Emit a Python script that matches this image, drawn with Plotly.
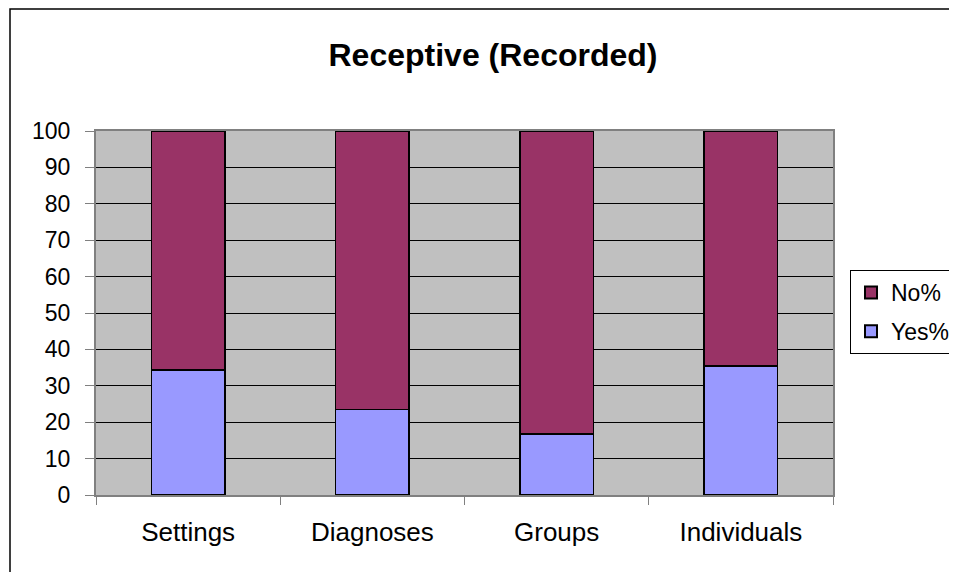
import plotly.graph_objects as go

# Données
categories = ["Settings", "Diagnoses", "Groups", "Individuals"]
yes_pct = [34.4, 23.5, 16.8, 35.5]
no_pct = [100 - v for v in yes_pct]
y_ticks = list(range(0, 101, 10))

W, H = 1010, 572                  # plus large que la fenêtre : la légende déborde
OFF = 8                           # marge du <body> dans la page
L, R, T, B = 96, 833, 131, 495    # zone de tracé en pixels (page)
pw, ph = R - L, B - T


def px_x(x):
    return (x - L) / pw


def px_y(y):
    return (B - y) / ph


fig = go.Figure()

fig.add_trace(go.Bar(
    name="Yes%",
    x=categories,
    y=yes_pct,
    legendgroup="yes",
    legendrank=2,
    marker=dict(color="#9999FF", line=dict(color="black", width=1.5)),
    width=0.4,
))
fig.add_trace(go.Bar(
    name="No%",
    x=categories,
    y=no_pct,
    legendgroup="no",
    legendrank=1,
    marker=dict(color="#993366", line=dict(color="black", width=1.5)),
    width=0.4,
))

font = "Liberation Sans, Arial, sans-serif"

fig.update_layout(
    width=W, height=H,
    barmode="stack",
    margin=dict(l=L - OFF, r=W - R + OFF, t=T - OFF, b=H - B + OFF, pad=0),
    paper_bgcolor="white",
    plot_bgcolor="#C0C0C0",
    font=dict(family=font, size=22, color="black"),
    title=dict(
        text="<b>Receptive (Recorded)</b>",
        font=dict(family=font, size=32, color="black"),
        x=px_x(493), xref="paper", xanchor="center",
        y=1 - (55 - OFF) / H, yref="container", yanchor="middle",
    ),
    legend=dict(
        x=px_x(850), y=px_y(270), xanchor="left", yanchor="top",
        traceorder="grouped",
        tracegroupgap=6,
        bordercolor="black", borderwidth=1,
        bgcolor="white",
        font=dict(family=font, size=23),
        itemsizing="constant",
    ),
    showlegend=True,
)

fig.update_xaxes(
    type="category",
    showgrid=False,
    ticks="outside", tickson="boundaries", ticklen=8, tickcolor="#808080",
    ticklabelstandoff=13,
    showline=True, linecolor="#808080", linewidth=2, mirror=True,
    tickfont=dict(family=font, size=26),
    range=[-0.5, 3.5],
)
fig.update_yaxes(
    range=[0, 100],
    tickvals=y_ticks,
    showgrid=True, gridcolor="black", gridwidth=1,
    ticks="outside", ticklen=9, tickcolor="#808080",
    ticklabelstandoff=10,
    showline=True, linecolor="#808080", linewidth=2, mirror=True,
    tickfont=dict(family=font, size=23),
    zeroline=False,
)

# Cadre extérieur du graphique
fig.add_shape(
    type="rect", xref="paper", yref="paper",
    x0=px_x(10), x1=px_x(1040), y0=px_y(600), y1=px_y(9),
    line=dict(color="black", width=1.5), fillcolor="rgba(0,0,0,0)",
    layer="below",
)

fig.write_html("out.html")
